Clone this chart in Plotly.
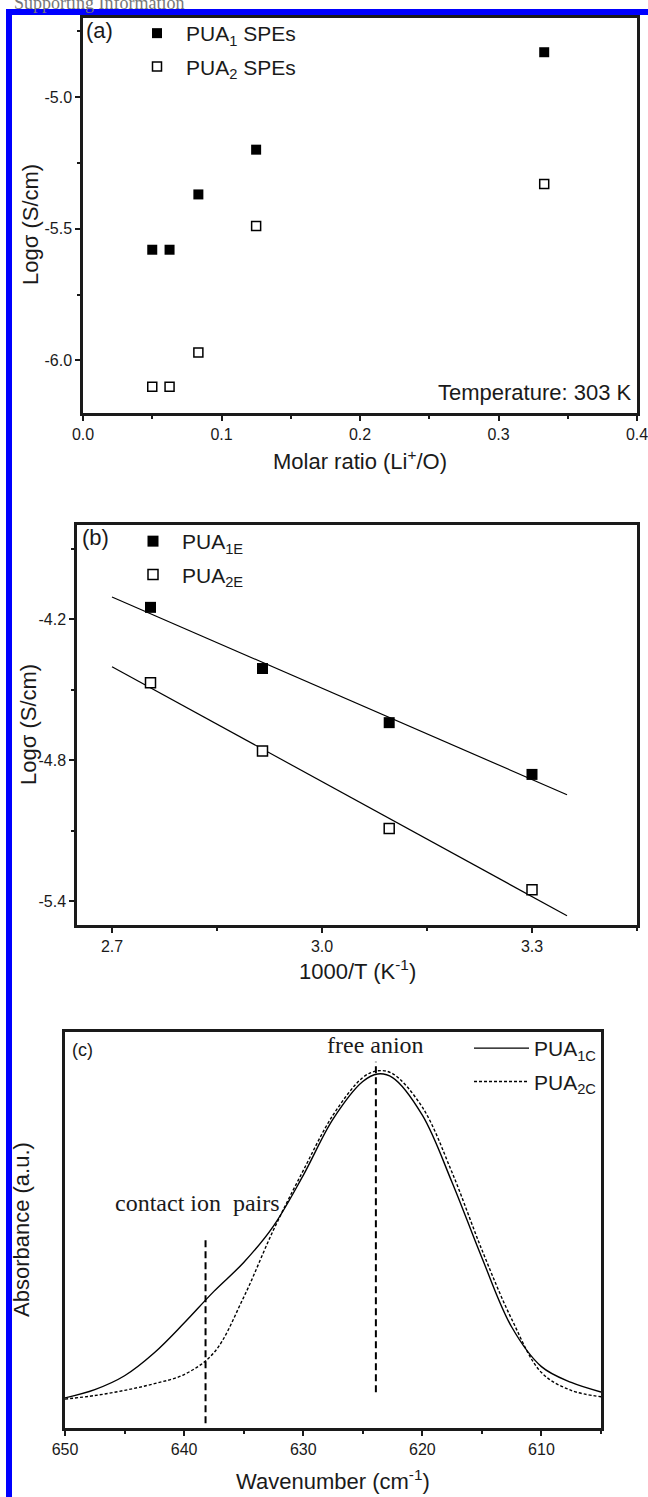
import numpy as np
import plotly.graph_objects as go

W, H = 648, 1497

# ---------------- Panel (a) data ----------------
A_RATIO = [0.05, 0.0625, 0.0833, 0.125, 0.333]
A_PUA1 = [-5.58, -5.58, -5.37, -5.20, -4.83]
A_PUA2 = [-6.10, -6.10, -5.97, -5.49, -5.33]
A_XTICKS = [0.0, 0.1, 0.2, 0.3, 0.4]
A_XTICKTEXT = ["0.0", "0.1", "0.2", "0.3", "0.4"]
A_YTICKS = [-5.0, -5.5, -6.0]
A_YTICKTEXT = ["-5.0", "-5.5", "-6.0"]

# ---------------- Panel (b) data ----------------
B_INVT = [2.755, 2.915, 3.096, 3.300]
B_PUA1E = [-4.15, -4.41, -4.64, -4.86]
B_PUA2E = [-4.47, -4.76, -5.09, -5.35]
B_FIT_RANGE = [2.70, 3.35]
B_XTICKS = [2.7, 3.0, 3.3]
B_XTICKTEXT = ["2.7", "3.0", "3.3"]
B_YTICKS = [-4.2, -4.8, -5.4]
B_YTICKTEXT = ["-4.2", "-4.8", "-5.4"]

# ---------------- Panel (c) data ----------------
C_WN = [650, 647.5, 645, 642.5, 640, 637.5, 635, 632.5, 630, 627.5,
        625, 623.75, 622.5, 620, 617.5, 615, 612.5, 610, 607.5, 605]
C_PUA1C = [0.076, 0.097, 0.132, 0.19, 0.265, 0.345, 0.418, 0.51, 0.638, 0.78,
           0.875, 0.894, 0.885, 0.79, 0.62, 0.43, 0.255, 0.155, 0.115, 0.091]
C_PUA2C = [0.073, 0.082, 0.095, 0.112, 0.135, 0.19, 0.33, 0.50, 0.65, 0.79,
           0.885, 0.902, 0.895, 0.81, 0.645, 0.45, 0.275, 0.14, 0.095, 0.079]
C_XTICKS = [650, 640, 630, 620, 610]
C_XTICKTEXT = ["650", "640", "630", "620", "610"]
C_CONTACT_WN = [638.2, 638.2]
C_CONTACT_Y = [0.012, 0.48]
C_FREE_WN = [623.9, 623.9]
C_FREE_Y = [0.09, 0.925]

FONT = "Liberation Sans, Arial, sans-serif"
SERIF = "Liberation Serif, Times New Roman, serif"
INK = "#1a1a1a"


def px(x):
    return x / W


def py(y):
    return 1 - y / H


fig = go.Figure()

# ---- panel (a) traces ----
fig.add_trace(go.Scatter(x=A_RATIO, y=A_PUA1, mode="markers", name="PUA<sub>1</sub> SPEs",
                         marker=dict(symbol="square", size=10, color="black"),
                         xaxis="x", yaxis="y", legend="legend", legendgroup="a1"))
fig.add_trace(go.Scatter(x=A_RATIO, y=A_PUA2, mode="markers", name="PUA<sub>2</sub> SPEs",
                         marker=dict(symbol="square-open", size=9, color="black", line=dict(width=1.5)),
                         xaxis="x", yaxis="y", legend="legend", legendgroup="a2"))

# ---- panel (b) traces ----
fit_x = np.linspace(B_FIT_RANGE[0], B_FIT_RANGE[1], 2)
p1 = np.polyfit(B_INVT, B_PUA1E, 1)
p2 = np.polyfit(B_INVT, B_PUA2E, 1)
fig.add_trace(go.Scatter(x=fit_x, y=np.polyval(p1, fit_x), mode="lines",
                         line=dict(color="black", width=1.2), showlegend=False,
                         xaxis="x2", yaxis="y2"))
fig.add_trace(go.Scatter(x=fit_x, y=np.polyval(p2, fit_x), mode="lines",
                         line=dict(color="black", width=1.2), showlegend=False,
                         xaxis="x2", yaxis="y2"))
fig.add_trace(go.Scatter(x=B_INVT, y=B_PUA1E, mode="markers", name="PUA<sub>1E</sub>",
                         marker=dict(symbol="square", size=11, color="black"),
                         xaxis="x2", yaxis="y2", legend="legend2", legendgroup="b1"))
fig.add_trace(go.Scatter(x=B_INVT, y=B_PUA2E, mode="markers", name="PUA<sub>2E</sub>",
                         marker=dict(symbol="square", size=10, color="white",
                                     line=dict(width=1.5, color="black")),
                         xaxis="x2", yaxis="y2", legend="legend2", legendgroup="b2"))

# ---- panel (c) traces ----
fig.add_trace(go.Scatter(x=C_CONTACT_WN, y=C_CONTACT_Y, mode="lines",
                         line=dict(color="black", width=2, dash="7px,4px"), showlegend=False,
                         xaxis="x3", yaxis="y3"))
fig.add_trace(go.Scatter(x=C_FREE_WN, y=C_FREE_Y, mode="lines",
                         line=dict(color="black", width=2, dash="7px,4px"), showlegend=False,
                         xaxis="x3", yaxis="y3"))
fig.add_trace(go.Scatter(x=C_WN, y=C_PUA1C, mode="lines", name="PUA<sub>1C</sub>",
                         line=dict(color="black", width=1.4, shape="spline", smoothing=1.0),
                         xaxis="x3", yaxis="y3", legend="legend3", legendgroup="c1"))
fig.add_trace(go.Scatter(x=C_WN, y=C_PUA2C, mode="lines", name="PUA<sub>2C</sub>",
                         line=dict(color="black", width=1.4, dash="3px,2px", shape="spline", smoothing=1.0),
                         xaxis="x3", yaxis="y3", legend="legend3", legendgroup="c2"))

axis_common = dict(showline=True, linewidth=2.5, linecolor=INK, mirror=True,
                   ticks="outside", ticklen=5, tickwidth=1.5, tickcolor=INK,
                   showgrid=False, zeroline=False, fixedrange=True,
                   ticklabeloverflow="allow",
                   tickfont=dict(family=FONT, size=16, color=INK))
minor_common = dict(ticks="outside", ticklen=3, tickwidth=1.5, tickcolor=INK)

fig.update_layout(
    width=W, height=H,
    margin=dict(l=0, r=0, t=0, b=0),
    paper_bgcolor="white", plot_bgcolor="white",
    template="none",
    font=dict(family=FONT, size=16, color=INK),
    xaxis=dict(axis_common, domain=[px(83), px(637)], range=[0, 0.4],
               tickvals=A_XTICKS, ticktext=A_XTICKTEXT, anchor="y",
               minor=dict(minor_common, tickvals=[0.05, 0.15, 0.25, 0.35])),
    yaxis=dict(axis_common, domain=[py(413), py(18)], range=[-6.2, -4.7],
               tickvals=A_YTICKS, ticktext=A_YTICKTEXT, anchor="x",
               minor=dict(minor_common, tickvals=[-4.75, -5.25, -5.75])),
    xaxis2=dict(axis_common, domain=[px(77), px(637)], range=[2.65, 3.45],
                tickvals=B_XTICKS, ticktext=B_XTICKTEXT, anchor="y2",
                minor=dict(minor_common, tickvals=[2.85, 3.15, 3.45])),
    yaxis2=dict(axis_common, domain=[py(925), py(525)], range=[-5.5, -3.8],
                tickvals=B_YTICKS, ticktext=B_YTICKTEXT, anchor="x2",
                minor=dict(minor_common, tickvals=[-3.9, -4.5, -5.1])),
    xaxis3=dict(axis_common, domain=[px(65), px(601)], range=[650, 605],
                tickvals=C_XTICKS, ticktext=C_XTICKTEXT, anchor="y3",
                minor=dict(minor_common, tickvals=[645, 635, 625, 615, 605])),
    yaxis3=dict(axis_common, domain=[py(1428), py(1032)], range=[0, 1],
                ticks="", showticklabels=False, anchor="x3"),
    legend=dict(x=px(128), y=py(13), xanchor="left", yanchor="top",
                font=dict(family=FONT, size=21, color=INK),
                bgcolor="rgba(0,0,0,0)", tracegroupgap=3, itemwidth=48),
    legend2=dict(x=px(124), y=py(521), xanchor="left", yanchor="top",
                 font=dict(family=FONT, size=21, color=INK),
                 bgcolor="rgba(0,0,0,0)", tracegroupgap=3, itemwidth=48),
    legend3=dict(x=px(469), y=py(1028), xanchor="left", yanchor="top",
                 font=dict(family=FONT, size=21, color=INK),
                 bgcolor="rgba(0,0,0,0)", tracegroupgap=3, itemwidth=55),
    showlegend=True,
)

ann = []


def text(x, y, s, size=20, family=FONT, xanchor="center", yanchor="middle", angle=0, color=INK):
    ann.append(dict(x=px(x), y=py(y), xref="paper", yref="paper", text=s, showarrow=False,
                    xanchor=xanchor, yanchor=yanchor, textangle=angle,
                    font=dict(family=family, size=size, color=color)))


# page header (cut at the top edge of the page image)
text(12, 3, "Supporting Information", size=18, family=SERIF, xanchor="left", color="#777777")

text(99, 31, "(a)", size=22)
text(634, 393, "Temperature: 303 K", size=22, xanchor="right")
text(360, 460, "Molar ratio (Li<sup>+</sup>/O)", size=22)
text(30, 225, "Logσ (S/cm)", size=22, angle=-90)

text(95, 537, "(b)", size=22)
text(357, 970, "1000/T (K<sup>-1</sup>)", size=22)
text(28, 725, "Logσ (S/cm)", size=22, angle=-90)

text(82, 1050, "(c)", size=18)
text(333, 1496, "Wavenumber (cm<sup>-1</sup>)", size=22, yanchor="bottom")
text(21, 1230, "Absorbance (a.u.)", size=22, angle=-90)

ann.append(dict(x=623.9, y=0.967, xref="x3", yref="y3", text="free anion", showarrow=False,
                xanchor="center", yanchor="middle", font=dict(family=SERIF, size=24, color=INK)))
ann.append(dict(x=638.9, y=0.568, xref="x3", yref="y3", text="contact ion  pairs", showarrow=False,
                xanchor="center", yanchor="middle", font=dict(family=SERIF, size=24, color=INK)))

fig.update_layout(annotations=ann)

# blue page frame
fig.update_layout(shapes=[
    dict(type="rect", xref="paper", yref="paper", x0=px(6), x1=1.0, y0=py(15), y1=py(9),
         fillcolor="#0000ff", line=dict(width=0), layer="above"),
    dict(type="rect", xref="paper", yref="paper", x0=px(6), x1=px(12), y0=0.0, y1=py(9),
         fillcolor="#0000ff", line=dict(width=0), layer="above"),
])

fig.write_html("out.html",
               config={"displayModeBar": False},
               post_script="document.body.style.margin='0';document.body.style.padding='0';"
                           "document.documentElement.style.overflow='hidden';")
